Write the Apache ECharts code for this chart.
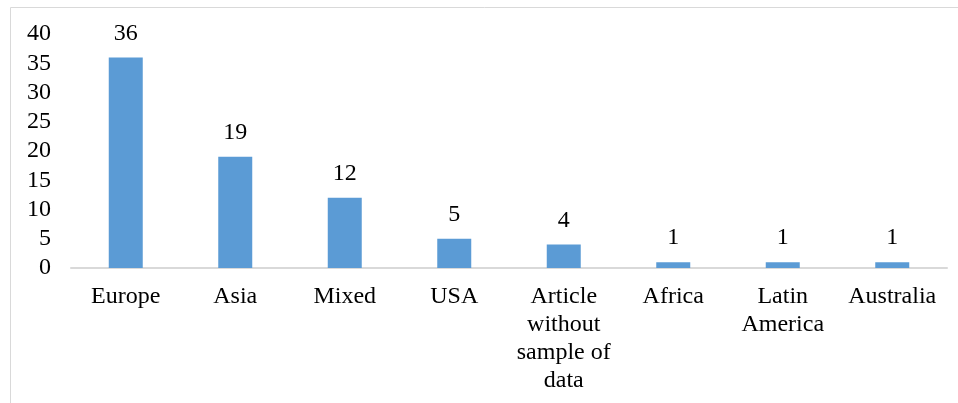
<!DOCTYPE html>
<html>
<head>
<meta charset="utf-8">
<script src="https://cdn.jsdelivr.net/npm/echarts@6/dist/echarts.min.js"></script>
<style>
  html, body { margin: 0; padding: 0; background: #fff; }
  #chart { width: 958px; height: 403px; }
</style>
</head>
<body>
<div id="chart"></div>
<script>
// Regions and article counts
const categories = ['Europe', 'Asia', 'Mixed', 'USA', 'Article\nwithout\nsample of\ndata', 'Africa', 'Latin\nAmerica', 'Australia'];
const counts = [36, 19, 12, 5, 4, 1, 1, 1];
const yTicks = { min: 0, max: 40, interval: 5 };

const font = '"Liberation Serif", "Times New Roman", serif';
const chart = echarts.init(document.getElementById('chart'));

chart.setOption({
  animation: false,
  graphic: [{
    type: 'rect',
    shape: { x: 10.5, y: 7.5, width: 1000, height: 500 },
    style: { fill: 'none', stroke: '#d9d9d9', lineWidth: 1 },
    silent: true
  }],
  grid: { left: 71, right: 11, top: 34, bottom: 135 },
  xAxis: {
    type: 'category',
    data: categories,
    axisLine: { lineStyle: { color: '#d9d9d9', width: 2 } },
    axisTick: { show: false },
    axisLabel: {
      color: '#000', fontFamily: font, fontSize: 24, lineHeight: 28,
      margin: 15, interval: 0
    }
  },
  yAxis: {
    type: 'value',
    min: yTicks.min, max: yTicks.max, interval: yTicks.interval,
    axisLine: { show: false },
    axisTick: { show: false },
    splitLine: { show: false },
    axisLabel: { color: '#000', fontFamily: font, fontSize: 24, margin: 20 }
  },
  series: [{
    type: 'bar',
    data: counts,
    barWidth: 34,
    itemStyle: { color: '#5b9bd5' },
    label: {
      show: true, position: 'top', distance: 12,
      color: '#000', fontFamily: font, fontSize: 24
    }
  }]
});
</script>
</body>
</html>
